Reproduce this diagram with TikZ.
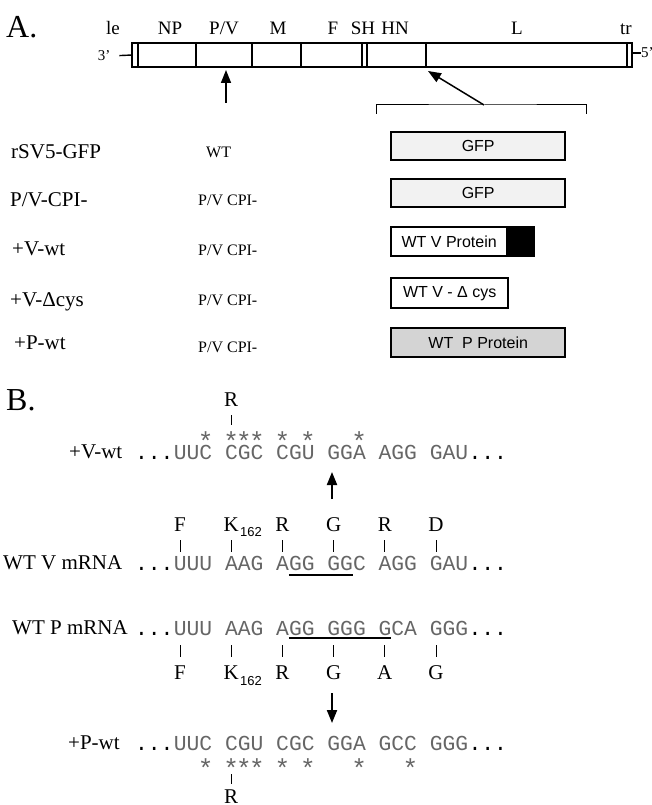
\documentclass[tikz,border=0pt]{standalone}
\usepackage{fontspec}
\setmainfont{Liberation Serif}
\setsansfont{Liberation Sans}
\setmonofont{Liberation Mono}
\usetikzlibrary{arrows.meta}

\begin{document}
\begin{tikzpicture}[x=1pt,y=-1pt,>={Triangle[length=13pt,width=10pt]},
  every node/.style={inner sep=0pt},
  panel/.style={anchor=west,font=\fontsize{32}{36}\selectfont,text height=21pt,text depth=0pt},
  gene/.style={font=\fontsize{19}{22}\selectfont,text height=12.4pt,text depth=0pt},
  rowlab/.style={anchor=west,font=\fontsize{21}{24}\selectfont,text height=13.8pt,text depth=0pt},
  mutlab/.style={anchor=west,font=\fontsize{16}{19}\selectfont,text height=10.5pt,text depth=0pt},
  pbox/.style={draw,line width=2.4pt,anchor=north west,minimum height=28pt,
    font=\sffamily\fontsize{16}{19}\selectfont},
  codon/.style={anchor=west,font=\ttfamily\fontsize{21.33}{24}\selectfont,text=black!60,
    text height=14pt,text depth=0pt},
  star/.style={font=\ttfamily\fontsize{26}{28}\selectfont,text=black!60,text height=20.3pt,text depth=-20.3pt},
  aa/.style={font=\fontsize{21}{24}\selectfont,text height=13.8pt,text depth=0pt},
  subnum/.style={anchor=west,font=\sffamily\fontsize{13}{15}\selectfont},
  tick/.style={line width=0.9pt},
  uline/.style={line width=1.8pt},
]
\useasboundingbox (0,0) rectangle (651,805);

\node[panel] (pa) at (6,27) {A.};
\draw[line width=2.2pt] (132,43) rectangle (632,67);
\foreach \gx in {138,196,252,301,362,367,426,627}
  \draw[line width=1.6pt] (\gx,43) -- (\gx,67);
\node[gene] (le) at (113,28) {le};
\node[gene] (np) at (170,28) {NP};
\node[gene] (pv) at (224,28) {P/V};
\node[gene] (mg) at (278,28) {M};
\node[gene] (fg) at (333,28) {F};
\node[gene] (sh) at (363,28) {SH};
\node[gene] (hn) at (395,28) {HN};
\node[gene] (lg) at (517,28) {L};
\node[gene] (tr) at (626,28) {tr};
\node[font=\fontsize{15}{17}\selectfont] (three) at (104,56) {3'};
\node[font=\fontsize{15}{17}\selectfont,anchor=west] (five) at (641,53) {5'};
\coordinate (barw) at (132,55);
\coordinate (bare) at (632,53);
\draw[line width=1.4pt,shorten <=9pt] (three.east) -- (barw);
\draw[line width=1.4pt] (bare) -- (five.west);
\coordinate (pvtail) at (226,103);
\coordinate (pvtip) at (226,70);
\draw[->,line width=1.5pt] (pvtail) -- (pvtip);
\coordinate (brl) at (376,114);
\coordinate (brm) at (484,105);
\coordinate (brr) at (586,114);
\coordinate (hntip) at (428,71);
\draw[line width=1pt] (brl) |- (brm) -| (brr);
\draw[->,line width=1.5pt] (brm) -- (hntip);

\node[rowlab] (r1) at (11,152) {rSV5-GFP};
\node[rowlab] (r2) at (10,200) {P/V-CPI-};
\node[rowlab] (r3) at (12,249) {+V-wt};
\node[rowlab] (r4) at (10,300) {+V-Δcys};
\node[rowlab] (r5) at (14,343) {+P-wt};
\node[mutlab] (m1) at (206,152) {WT};
\node[mutlab] (m2) at (198,200) {P/V CPI-};
\node[mutlab] (m3) at (198,250) {P/V CPI-};
\node[mutlab] (m4) at (198,300) {P/V CPI-};
\node[mutlab] (m5) at (198,347) {P/V CPI-};
\node[pbox,fill=black!5,minimum width=174pt] (b1) at (390,131) {GFP};
\node[pbox,fill=black!5,minimum width=174pt] (b2) at (390,178) {GFP};
\node[pbox,minimum width=116pt,minimum height=29pt] (b3) at (390,226) {WT V Protein};
\node[pbox,fill=black,minimum width=24pt,minimum height=29pt] (b3t) at (b3.north east) {};
\node[pbox,minimum width=117pt,minimum height=30pt] (b4) at (390,277) {WT V - Δ cys};
\node[pbox,fill=black!17,minimum width=174pt,minimum height=29pt] (b5) at (390,327) {WT\ \ P Protein};

\node[panel] (pb) at (6,400) {B.};
\node[aa] (vr) at (231.2,400) {R};
\node[rowlab] (vwl) at (69,452) {+V-wt};
\foreach \c [count=\i] in {UUC,CGC,CGU,GGA,AGG,GAU}
  \node[codon] (vw\i) at ({173.6+51.2*(\i-1)},452) {\c};
\node[codon,anchor=east,text=black] (vw0) at (vw1.west) {...};
\node[codon,text=black] (vw7) at (vw6.east) {...};
\foreach \sx [count=\k] in {205.6,231.2,244,256.8,282.4,308,359.2}
  \node[star] (vs\k) at (\sx,440) {*};
\draw[tick,shorten <=8pt,shorten >=20pt] (vr.south) -- (vr.south |- vw2.north);
\coordinate (uptail) at (332,499);
\coordinate (uptip) at (332,472);
\draw[->,line width=2pt] (uptail) -- (uptip);

\foreach \a [count=\i] in {F,K,R,G,R,D}
  \node[aa] (va\i) at ({180+51.2*(\i-1)},525) {\a};
\node[subnum] (vk) at ([shift={(1,7)}]va2.east) {162};
\node[rowlab] (wvl) at (3,563) {WT V mRNA};
\foreach \c [count=\i] in {UUU,AAG,AGG,GGC,AGG,GAU}
  \node[codon] (wv\i) at ({173.6+51.2*(\i-1)},563) {\c};
\node[codon,anchor=east,text=black] (wv0) at (wv1.west) {...};
\node[codon,text=black] (wv7) at (wv6.east) {...};
\foreach \i in {1,...,6}
  \draw[tick,shorten <=8pt,shorten >=4pt] (va\i.south) -- (va\i.south |- wv\i.north);
\draw[uline] ([shift={(12.8,5)}]wv3.south west) -- ([shift={(25.6,5)}]wv4.south west);

\node[rowlab] (wpl) at (12,628) {WT P mRNA};
\foreach \c [count=\i] in {UUU,AAG,AGG,GGG,GCA,GGG}
  \node[codon] (wp\i) at ({173.6+51.2*(\i-1)},628) {\c};
\node[codon,anchor=east,text=black] (wp0) at (wp1.west) {...};
\node[codon,text=black] (wp7) at (wp6.east) {...};
\draw[uline] ([shift={(12.8,3)}]wp3.south west) -- ([shift={(12.8,3)}]wp5.south west);
\foreach \a [count=\i] in {F,K,R,G,A,G}
  \node[aa] (pa\i) at ({180+51.2*(\i-1)},673) {\a};
\node[subnum] (pk) at ([shift={(1,8)}]pa2.east) {162};
\foreach \i in {1,...,6}
  \draw[tick,shorten <=10pt,shorten >=9pt] (pa\i.north |- wp\i.south) -- (pa\i.north);
\coordinate (dntail) at (332,693);
\coordinate (dntip) at (332,723);
\draw[->,line width=2pt] (dntail) -- (dntip);

\node[rowlab] (pwl) at (68,743) {+P-wt};
\foreach \c [count=\i] in {UUC,CGU,CGC,GGA,GCC,GGG}
  \node[codon] (pw\i) at ({173.6+51.2*(\i-1)},743) {\c};
\node[codon,anchor=east,text=black] (pw0) at (pw1.west) {...};
\node[codon,text=black] (pw7) at (pw6.east) {...};
\foreach \sx [count=\k] in {205.6,231.2,244,256.8,282.4,308,359.2,410.4}
  \node[star] (ps\k) at (\sx,767) {*};
\node[aa] (pr) at (231.2,797) {R};
\draw[tick,shorten <=24pt,shorten >=6pt] (pr.north |- pw2.south) -- (pr.north);
\end{tikzpicture}
\end{document}
